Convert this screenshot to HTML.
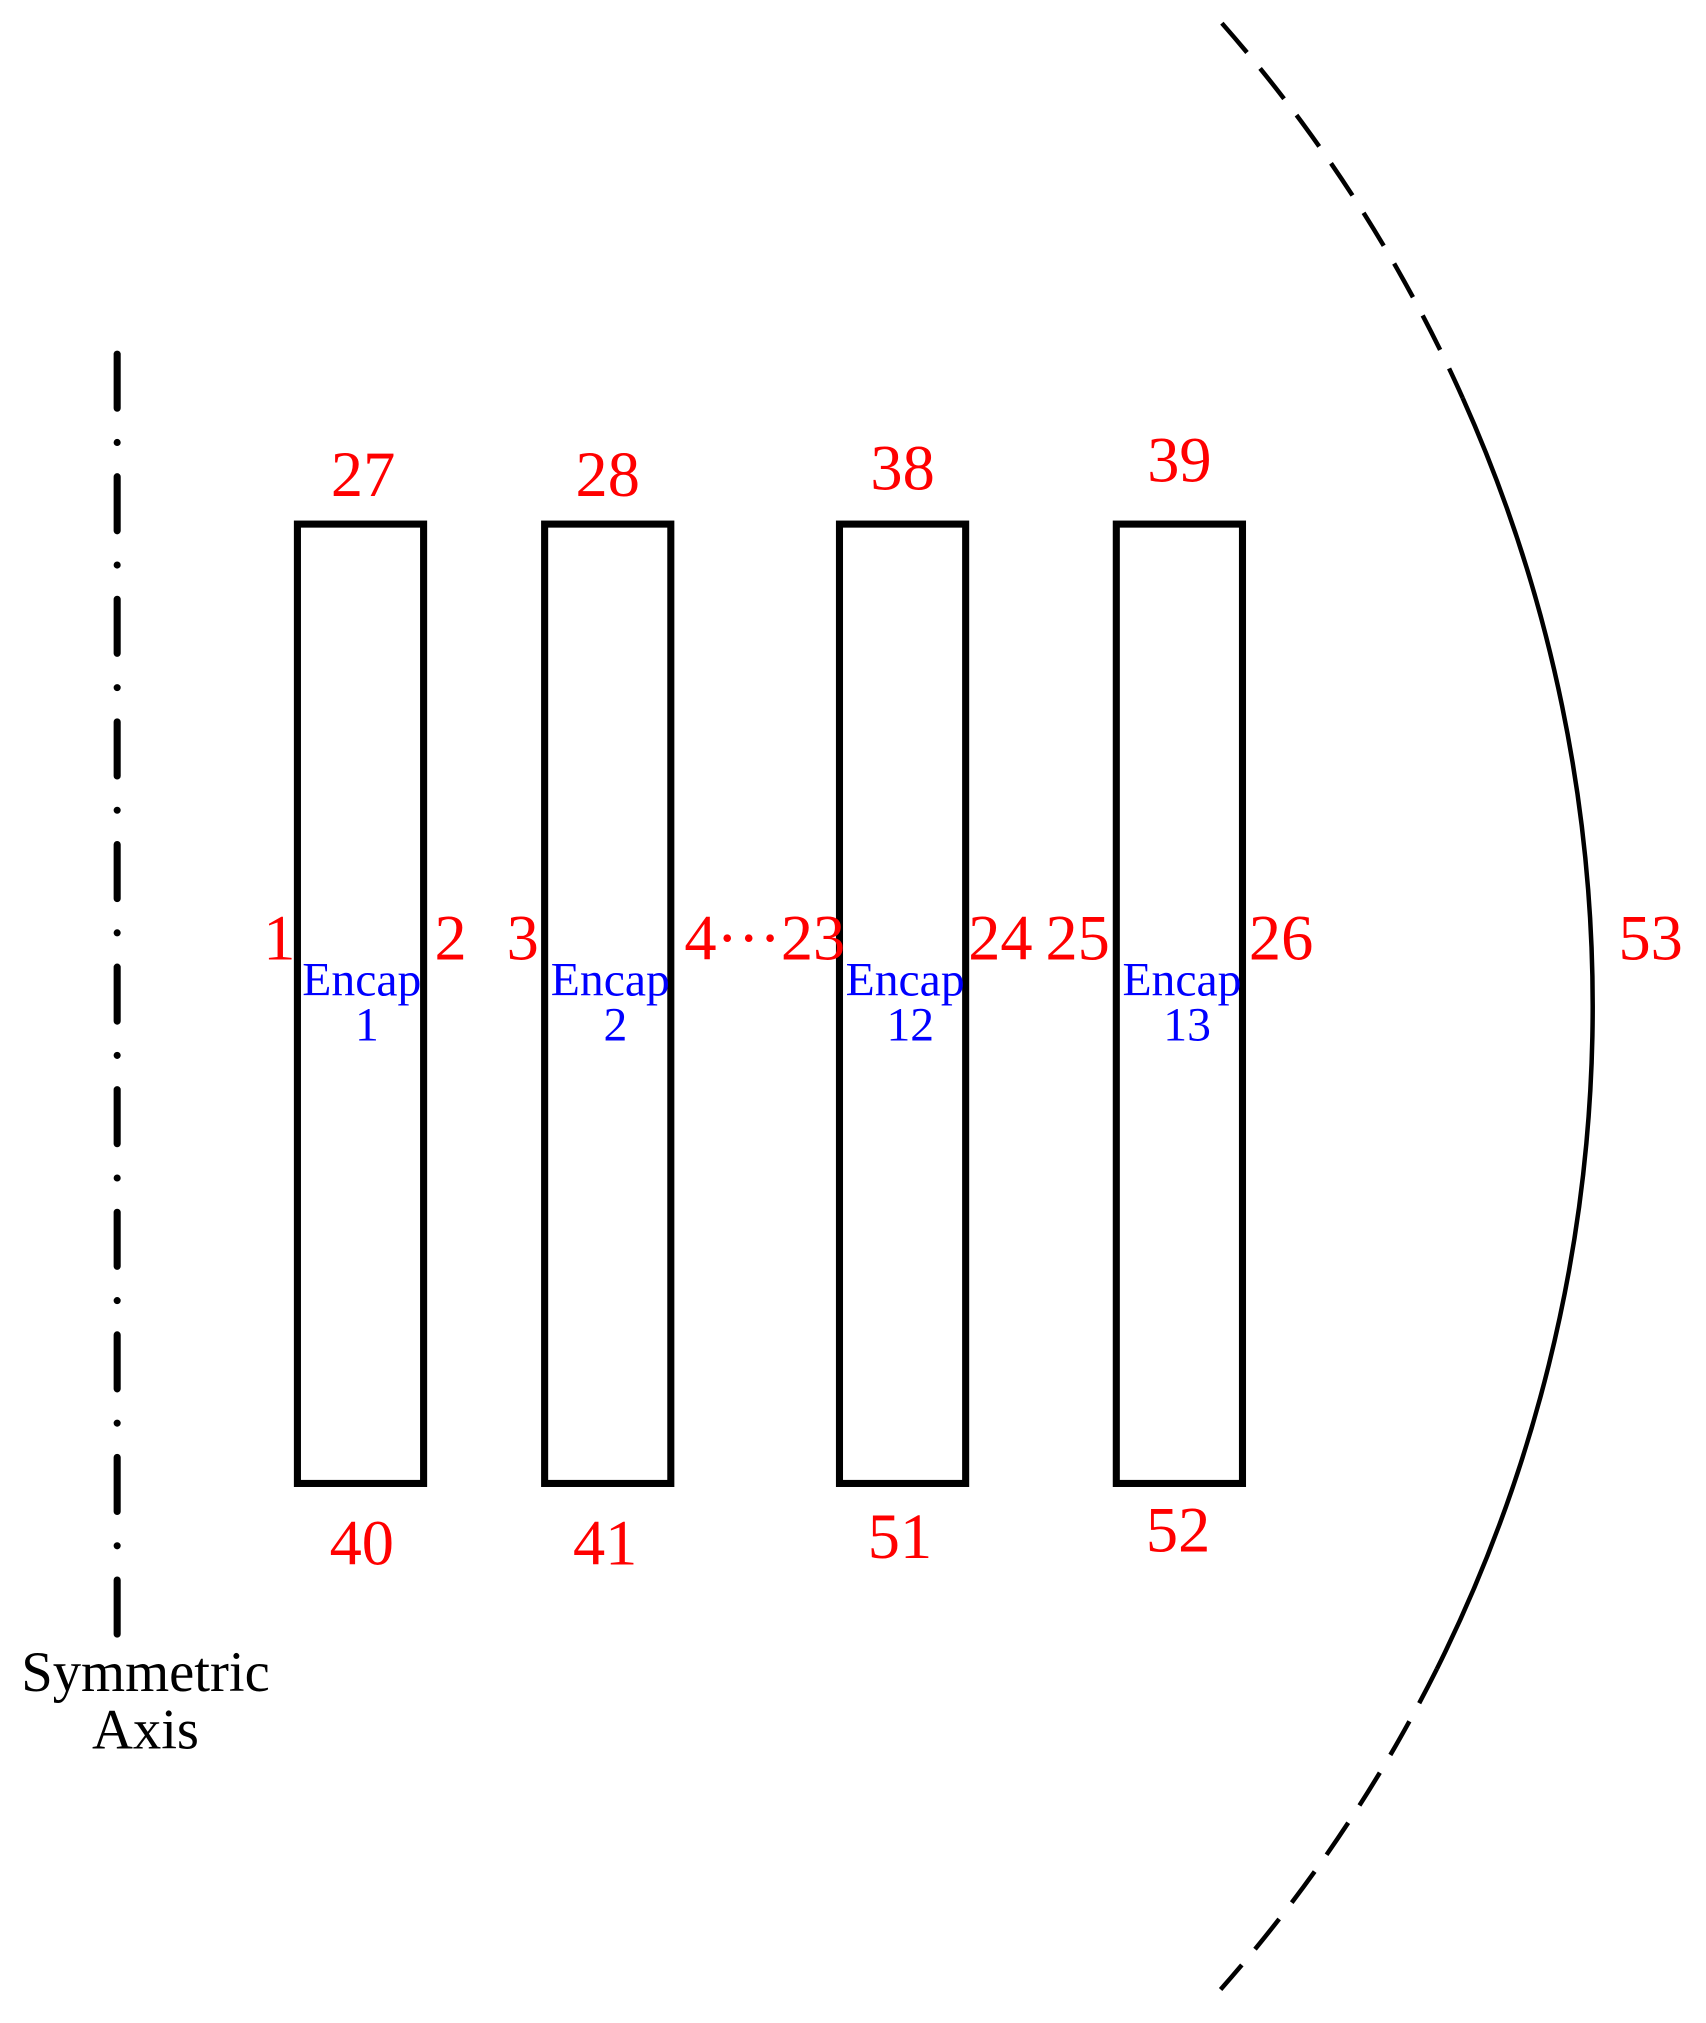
<!DOCTYPE html>
<html><head><meta charset="utf-8"><style>
html,body{margin:0;padding:0;background:#fff;}
svg{display:block;}
.r{fill:#f00;font-family:"Liberation Serif",serif;font-size:50px;text-anchor:middle;}
.b{fill:#00f;font-family:"Liberation Serif",serif;font-size:37px;text-anchor:middle;}
.k{fill:#000;font-family:"Liberation Serif",serif;font-size:44px;text-anchor:middle;}
</style></head><body>
<svg width="1706" height="2023" viewBox="0 0 1325 1571" preserveAspectRatio="none" xmlns="http://www.w3.org/2000/svg">
<line x1="91" y1="275" x2="91" y2="1272" stroke="#000" stroke-width="5.5" stroke-linecap="round" stroke-dasharray="42 26.6 0 26.6"/>
<g fill="none" stroke="#000" stroke-width="5.5">
<rect x="231" y="407" width="98" height="745"/>
<rect x="423" y="407" width="98" height="745"/>
<rect x="652" y="407" width="98" height="745"/>
<rect x="867" y="407" width="98" height="745"/>
</g>
<path d="M949 18 A1155 1155 0 0 1 1136 309" fill="none" stroke="#000" stroke-width="3.5" stroke-dasharray="30 16"/>
<path d="M1136 309 A1155 1155 0 0 1 1116 1296" fill="none" stroke="#000" stroke-width="3.5"/>
<path d="M1116 1296 A1155 1155 0 0 1 948 1545" fill="none" stroke="#000" stroke-width="3.5" stroke-dasharray="30 16"/>
<text class="r" x="282" y="385">27</text>
<text class="r" x="472" y="385">28</text>
<text class="r" x="701" y="380">38</text>
<text class="r" x="916" y="374">39</text>
<text class="r" x="281" y="1215">40</text>
<text class="r" x="470" y="1215">41</text>
<text class="r" x="699" y="1210">51</text>
<text class="r" x="915" y="1205">52</text>
<text class="r" x="217" y="745">1</text>
<text class="r" x="350" y="745">2</text>
<text class="r" x="406" y="745">3</text>
<text class="r" x="594" y="745">4···23</text>
<text class="r" x="777" y="745">24</text>
<text class="r" x="837" y="745">25</text>
<text class="r" x="995" y="745">26</text>
<text class="r" x="1282" y="745">53</text>
<text class="b" x="281" y="773">Encap</text><text class="b" x="285" y="808">1</text>
<text class="b" x="474" y="773">Encap</text><text class="b" x="478" y="808">2</text>
<text class="b" x="703" y="773">Encap</text><text class="b" x="707" y="808">12</text>
<text class="b" x="918" y="773">Encap</text><text class="b" x="922" y="808">13</text>
<text class="k" x="113" y="1313">Symmetric</text>
<text class="k" x="113" y="1358">Axis</text>
</svg>
</body></html>
